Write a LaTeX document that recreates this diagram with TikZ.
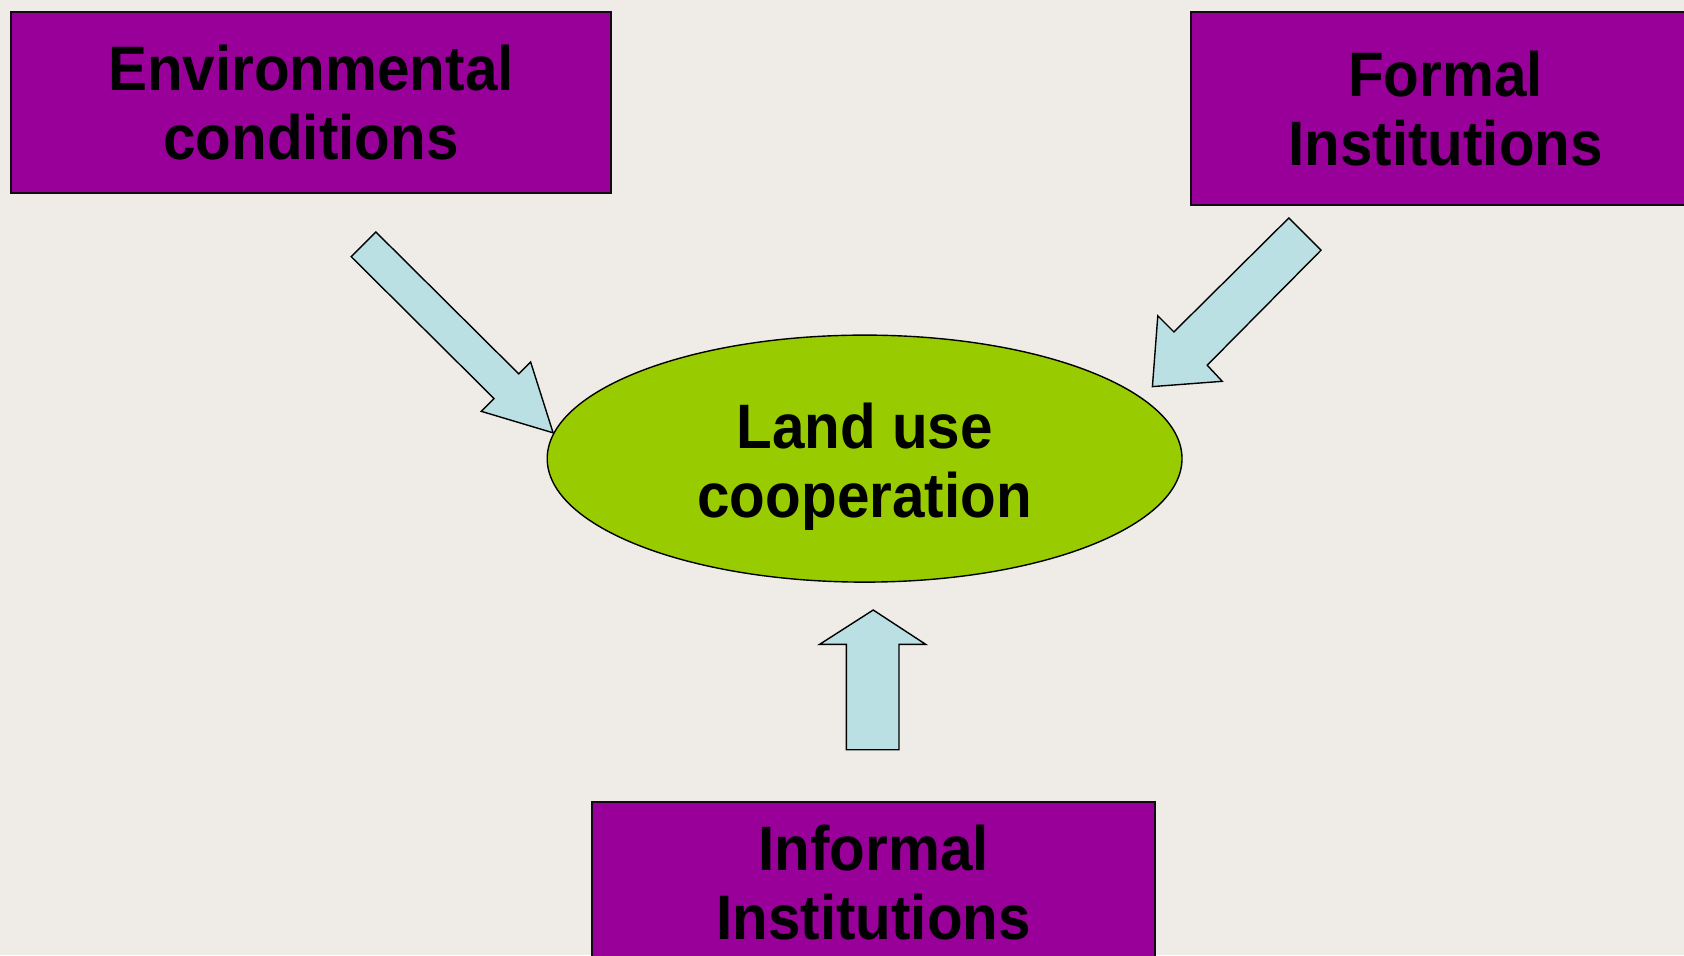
\documentclass[tikz,border=0pt]{standalone}
\usepackage{fontspec}
\setmainfont{Liberation Sans}[FakeStretch=0.93]
\usetikzlibrary{shapes.geometric}
\begin{document}
\begin{tikzpicture}[x=0.5pt,y=-0.5pt,
  bg/.style={fill={rgb,255:red,239;green,236;blue,231}},
  labeltext/.style={inner sep=0pt,align=center,font=\fontsize{31.4}{34.5}\selectfont\bfseries},
  purplebox/.style={labeltext,draw={rgb,255:red,20;green,10;blue,20},line width=1pt,fill={rgb,255:red,153;green,0;blue,153}},
  oval/.style={ellipse,draw=black,line width=0.7pt,fill={rgb,255:red,153;green,204;blue,0},inner sep=0pt},
  blockarrow/.style={draw=black,line width=0.7pt,fill={rgb,255:red,186;green,224;blue,227},line join=miter}]
\useasboundingbox (0,0) rectangle (1684,955);
\clip (0,0) rectangle (1684,955);
\fill[bg] (0,0) rectangle (1684,955);
% boxes
\node[purplebox,minimum width=600.3*0.5pt,minimum height=181.5*0.5pt] (env) at (310.9,102.5) {Environmental\\conditions};
\node[purplebox,minimum width=509*0.5pt,minimum height=193*0.5pt] (formal) at (1445.6,108.4) {Formal\\Institutions};
\node[purplebox,minimum width=563*0.5pt,minimum height=162*0.5pt] (informal) at (873.5,883) {Informal\\Institutions};
% ellipse
\node[oval,minimum width=634.8*0.5pt,minimum height=247*0.5pt] (land) at (864.6,458.6) {};
\node[labeltext] (landtext) at (864.6,466.5) {Land use\\cooperation};
% block arrows
\draw[blockarrow] (375.9,232) -- (518.7,373.8) -- (530.6,361.9) -- (553.1,432.8) -- (481.2,411.3) -- (494,398.5) -- (351.2,256.7) -- cycle;
\draw[blockarrow] (1288.8,218) -- (1321,250.2) -- (1207.2,365.2) -- (1222.2,381.3) -- (1152.4,386.6) -- (1157.8,315.8) -- (1173.9,331.9) -- cycle;
\draw[blockarrow] (873.2,610) -- (925.8,644.4) -- (899,644.4) -- (899,749.7) -- (846.3,749.7) -- (846.3,644.4) -- (819.5,644.4) -- cycle;
\end{tikzpicture}
\end{document}
